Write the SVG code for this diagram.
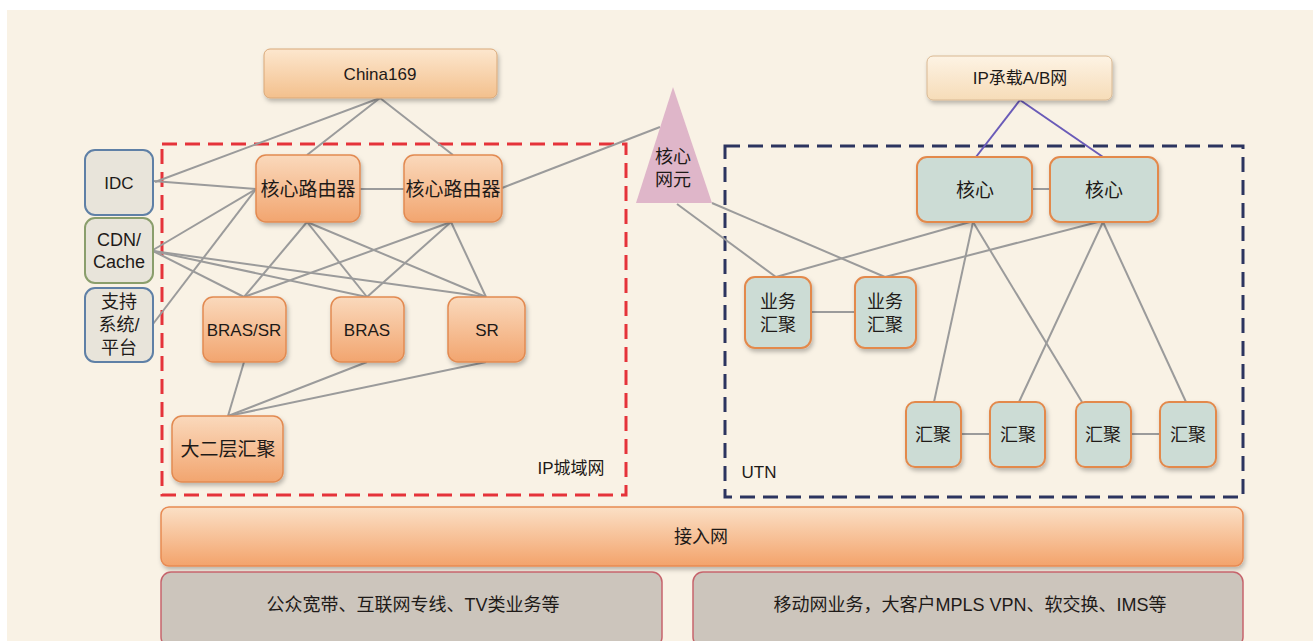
<svg xmlns="http://www.w3.org/2000/svg" width="1313" height="641" viewBox="0 0 1313 641">
<defs>
  <linearGradient id="og" x1="0" y1="0" x2="0" y2="1">
    <stop offset="0" stop-color="#fad9bc"/>
    <stop offset="1" stop-color="#f2a56f"/>
  </linearGradient>
  <linearGradient id="cg" x1="0" y1="0" x2="0" y2="1">
    <stop offset="0" stop-color="#fde7ce"/>
    <stop offset="1" stop-color="#f3c08d"/>
  </linearGradient>
  <linearGradient id="ipg" x1="0" y1="0" x2="0" y2="1">
    <stop offset="0" stop-color="#fdf3e4"/>
    <stop offset="1" stop-color="#f6dcb8"/>
  </linearGradient>
  <linearGradient id="ag" x1="0" y1="0" x2="0" y2="1">
    <stop offset="0" stop-color="#fbe0c6"/>
    <stop offset="1" stop-color="#f3a36b"/>
  </linearGradient>
  <filter id="sh" x="-20%" y="-20%" width="140%" height="150%">
    <feDropShadow dx="1.5" dy="3" stdDeviation="2" flood-color="#000" flood-opacity="0.25"/>
  </filter>
  <style>
    text { font-family: "Liberation Sans", "Noto Sans CJK SC", sans-serif; fill: #1e1a18; text-anchor: middle; dominant-baseline: central; }
    .orange { fill: url(#og); stroke: #e28a51; stroke-width: 1.5; filter: url(#sh); }
    .teal { fill: #ccdcd5; stroke: #e3894c; stroke-width: 2; filter: url(#sh); }
    .side { fill: #e8e4da; stroke-width: 2; }
    .svc { fill: #ccc5bc; stroke: #c6646c; stroke-width: 1.5; }
    .ln { stroke: #9b9b9b; stroke-width: 2; fill: none; }
    .pl { stroke: #6a5bb8; stroke-width: 2; fill: none; }
    .f17 { font-size: 17px; }
    .f18 { font-size: 18px; }
    .f19 { font-size: 19px; }
  </style>
</defs>

<rect x="0" y="0" width="1313" height="641" fill="#ffffff"/>
<rect x="7" y="10" width="1306" height="631" fill="#f9f2e5"/>

<!-- region boxes -->
<g id="region-ip">
  <rect x="162" y="144" width="464" height="351" fill="none" stroke="#e5333a" stroke-width="3" stroke-dasharray="15,8"/>
  <text x="571" y="468" class="f17">IP城域网</text>
</g>
<g id="region-utn">
  <rect x="725" y="146" width="518" height="351" fill="none" stroke="#2c345f" stroke-width="3" stroke-dasharray="15,8"/>
  <text x="759" y="472" class="f17">UTN</text>
</g>

<!-- connectors -->
<g id="connectors">
  <line class="ln" x1="380" y1="98" x2="155" y2="182"/>
  <line class="ln" x1="380" y1="98" x2="307" y2="155"/>
  <line class="ln" x1="380" y1="98" x2="453" y2="155"/>
  <line class="ln" x1="360" y1="189" x2="404" y2="189"/>
  <line class="ln" x1="502" y1="188" x2="660" y2="127"/>
  <line class="ln" x1="153" y1="181" x2="256" y2="189"/>
  <line class="ln" x1="153" y1="250" x2="256" y2="189"/>
  <line class="ln" x1="153" y1="324" x2="256" y2="189"/>
  <line class="ln" x1="153" y1="251" x2="244" y2="297"/>
  <line class="ln" x1="153" y1="251" x2="367" y2="297"/>
  <line class="ln" x1="153" y1="251" x2="486" y2="297"/>
  <line class="ln" x1="307" y1="222" x2="244" y2="297"/>
  <line class="ln" x1="307" y1="222" x2="367" y2="297"/>
  <line class="ln" x1="307" y1="222" x2="486" y2="297"/>
  <line class="ln" x1="451" y1="222" x2="244" y2="297"/>
  <line class="ln" x1="451" y1="222" x2="367" y2="297"/>
  <line class="ln" x1="451" y1="222" x2="486" y2="297"/>
  <line class="ln" x1="244" y1="362" x2="228" y2="416"/>
  <line class="ln" x1="367" y1="362" x2="228" y2="416"/>
  <line class="ln" x1="486" y1="362" x2="228" y2="416"/>
  <line class="pl" x1="1020" y1="100" x2="976" y2="157"/>
  <line class="pl" x1="1020" y1="100" x2="1103" y2="157"/>
  <line class="ln" x1="1032" y1="189" x2="1050" y2="189"/>
  <line class="ln" x1="677" y1="204" x2="776" y2="277"/>
  <line class="ln" x1="712" y1="203" x2="885" y2="277"/>
  <line class="ln" x1="970" y1="222" x2="776" y2="277"/>
  <line class="ln" x1="1098" y1="222" x2="885" y2="277"/>
  <line class="ln" x1="973" y1="222" x2="934" y2="402"/>
  <line class="ln" x1="973" y1="222" x2="1082" y2="402"/>
  <line class="ln" x1="1103" y1="222" x2="1019" y2="402"/>
  <line class="ln" x1="1103" y1="222" x2="1186" y2="402"/>
  <line class="ln" x1="811" y1="312" x2="855" y2="312"/>
  <line class="ln" x1="961" y1="434" x2="990" y2="434"/>
  <line class="ln" x1="1131" y1="434" x2="1160" y2="434"/>
</g>

<!-- top nodes -->
<g id="china169">
  <rect x="264" y="49" width="233" height="49" rx="6" fill="url(#cg)" stroke="#d9a878" stroke-width="1" filter="url(#sh)"/>
  <text x="380" y="74" class="f17">China169</text>
</g>
<g id="ipab">
  <rect x="927" y="56" width="185" height="44" rx="6" fill="url(#ipg)" stroke="#d9b892" stroke-width="1" filter="url(#sh)"/>
  <text x="1020" y="78" class="f17">IP承载A/B网</text>
</g>

<!-- side boxes -->
<g id="idc">
  <rect x="85" y="150" width="68" height="65" rx="10" class="side" stroke="#5f80a6"/>
  <text x="119" y="183" class="f17">IDC</text>
</g>
<g id="cdn">
  <rect x="85" y="218" width="68" height="65" rx="10" class="side" stroke="#8a9e6c"/>
  <text x="119" y="240" class="f18">CDN/</text>
  <text x="119" y="262" class="f18">Cache</text>
</g>
<g id="support">
  <rect x="85" y="288" width="68" height="74" rx="10" class="side" stroke="#5f80a6"/>
  <text x="119" y="302" class="f18">支持</text>
  <text x="119" y="325" class="f18">系统/</text>
  <text x="119" y="348" class="f18">平台</text>
</g>

<!-- IP metro nodes -->
<g id="cr1">
  <rect x="256" y="155" width="104" height="67" rx="10" class="orange"/>
  <text x="308" y="189" class="f19">核心路由器</text>
</g>
<g id="cr2">
  <rect x="404" y="155" width="98" height="67" rx="10" class="orange"/>
  <text x="453" y="189" class="f19">核心路由器</text>
</g>
<g id="bras-sr">
  <rect x="203" y="297" width="83" height="65" rx="10" class="orange"/>
  <text x="244" y="330" class="f17">BRAS/SR</text>
</g>
<g id="bras">
  <rect x="331" y="297" width="73" height="65" rx="10" class="orange"/>
  <text x="367" y="330" class="f17">BRAS</text>
</g>
<g id="sr">
  <rect x="448" y="297" width="77" height="65" rx="10" class="orange"/>
  <text x="487" y="330" class="f17">SR</text>
</g>
<g id="l2agg">
  <rect x="172" y="416" width="111" height="66" rx="10" class="orange"/>
  <text x="228" y="449" class="f19">大二层汇聚</text>
</g>

<!-- core network element -->
<g id="core-ne">
  <polygon points="673,87 636,203 712,203" fill="#dfb6c9"/>
  <text x="673" y="157" class="f18">核心</text>
  <text x="673" y="180" class="f18">网元</text>
</g>

<!-- UTN nodes -->
<g id="utn-core1">
  <rect x="917" y="157" width="115" height="65" rx="10" class="teal"/>
  <text x="975" y="190" class="f19">核心</text>
</g>
<g id="utn-core2">
  <rect x="1050" y="157" width="108" height="65" rx="10" class="teal"/>
  <text x="1104" y="190" class="f19">核心</text>
</g>
<g id="svc-agg1">
  <rect x="745" y="277" width="66" height="71" rx="10" class="teal"/>
  <text x="778" y="302" class="f18">业务</text>
  <text x="778" y="325" class="f18">汇聚</text>
</g>
<g id="svc-agg2">
  <rect x="855" y="277" width="61" height="71" rx="10" class="teal"/>
  <text x="885" y="302" class="f18">业务</text>
  <text x="885" y="325" class="f18">汇聚</text>
</g>
<g id="agg1">
  <rect x="906" y="402" width="55" height="65" rx="9" class="teal"/>
  <text x="933" y="435" class="f18">汇聚</text>
</g>
<g id="agg2">
  <rect x="990" y="402" width="55" height="65" rx="9" class="teal"/>
  <text x="1018" y="435" class="f18">汇聚</text>
</g>
<g id="agg3">
  <rect x="1076" y="402" width="55" height="65" rx="9" class="teal"/>
  <text x="1103" y="435" class="f18">汇聚</text>
</g>
<g id="agg4">
  <rect x="1160" y="402" width="56" height="65" rx="9" class="teal"/>
  <text x="1188" y="435" class="f18">汇聚</text>
</g>

<!-- access network -->
<g id="access">
  <rect x="161" y="507" width="1082" height="59" rx="8" fill="url(#ag)" stroke="#e88a52" stroke-width="1.5" filter="url(#sh)"/>
  <text x="701" y="537" class="f18">接入网</text>
</g>

<!-- services -->
<g id="svc-left">
  <rect x="161" y="572" width="501" height="75" rx="10" class="svc"/>
  <text x="413" y="605" class="f18">公众宽带、互联网专线、TV类业务等</text>
</g>
<g id="svc-right">
  <rect x="693" y="572" width="550" height="75" rx="10" class="svc"/>
  <text x="970" y="605" class="f18">移动网业务，大客户MPLS VPN、软交换、IMS等</text>
</g>
</svg>
